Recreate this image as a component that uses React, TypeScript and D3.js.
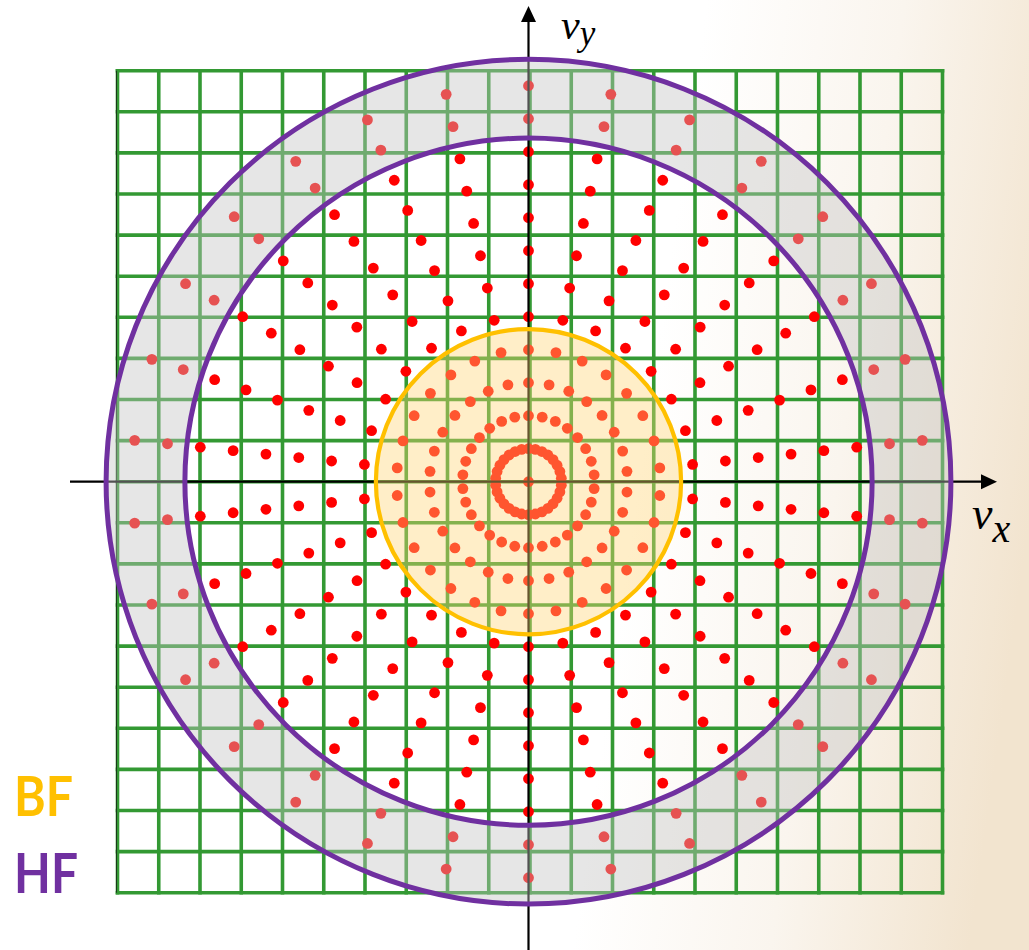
import React from "react";
import * as d3 from "d3";

// ---- data (grid units: one grid cell = 1) ----
const gridTicks = [-10, -9, -8, -7, -6, -5, -4, -3, -2, -1, 0, 1, 2, 3, 4, 5, 6, 7, 8, 9, 10];
const ringRadii = [0.8, 1.6, 2.4, 3.2, 4.0, 4.8, 5.6, 6.4, 7.2, 8.0, 8.8, 9.6];
const spokeAngles = [6, 18, 30, 42, 54, 66, 78, 90, 102, 114, 126, 138, 150, 162, 174, 186, 198, 210, 222, 234, 246, 258, 270, 282, 294, 306, 318, 330, 342, 354];
const bfRadius = 3.7;
const hfInner = 8.33;
const hfOuter = 10.24;
const legendLabels = ["BF", "HF"];

const W = 1029;
const H = 950;

export default function App() {
  const x = d3.scaleLinear().domain([-10, 10]).range([117.5, 942.5]);
  const y = d3.scaleLinear().domain([-10, 10]).range([892.7, 70.7]);
  const cx = x(0) - 1.5;
  const cy = y(0);
  const rs = (v: number) => (x(v) - x(0));

  const dots: { px: number; py: number }[] = [{ px: cx, py: cy }];
  ringRadii.forEach((r) => {
    spokeAngles.forEach((a) => {
      const t = (a * Math.PI) / 180;
      dots.push({ px: cx + rs(r) * Math.cos(t), py: cy - rs(r) * Math.sin(t) });
    });
  });

  const annulus = d3.arc()({
    innerRadius: rs(hfInner),
    outerRadius: rs(hfOuter),
    startAngle: 0,
    endAngle: 2 * Math.PI,
  } as any) as string;

  const green = "#339933";
  const purple = "#7030a0";
  const gold = "#ffc000";

  return (
    <svg width={W} height={H} style={{ position: "absolute", left: 0, top: 0 }}>
      <defs>
        <linearGradient id="bg" x1="640" y1="470" x2={W} y2={525} gradientUnits="userSpaceOnUse">
          <stop offset="0" stopColor="#ffffff" />
          <stop offset="0.5" stopColor="#faf5ee" />
          <stop offset="1" stopColor="#f2e4cf" />
        </linearGradient>
      </defs>
      <rect x={0} y={0} width={W} height={H} fill="url(#bg)" />

      {/* grid */}
      <g stroke={green} strokeWidth={3.6}>
        {gridTicks.map((t) => (
          <line key={"v" + t} x1={x(t)} x2={x(t)} y1={y(-10) + 1.8} y2={y(10) - 1.8} />
        ))}
        {gridTicks.map((t) => (
          <line key={"h" + t} x1={x(-10) - 1.8} x2={x(10) + 1.8} y1={y(t)} y2={y(t)} />
        ))}
      </g>
      <line x1={x(-10) - 1} x2={x(-10) - 1} y1={y(10)} y2={y(-10)} stroke="#1a3a1a" strokeWidth={1} />

      {/* dots */}
      <g fill="#ff0000">
        {dots.map((d, i) => (
          <circle key={i} cx={d.px} cy={d.py} r={5.4} />
        ))}
      </g>

      {/* axes */}
      <g stroke="#000" strokeWidth={2.2}>
        <line x1={70} x2={990} y1={cy} y2={cy} />
        <line x1={cx} x2={cx} y1={H} y2={14} />
      </g>
      <path d={`M997,${cy} L981,${cy - 7.5} L981,${cy + 7.5} Z`} fill="#000" />
      <path d={`M${cx},6 L${cx - 7.5},22 L${cx + 7.5},22 Z`} fill="#000" />

      {/* translucent regions */}
      <path d={annulus} transform={`translate(${cx},${cy})`} fill="#c4c4c4" fillOpacity={0.42} />
      <circle cx={cx} cy={cy} r={rs(bfRadius)} fill="#ffd476" fillOpacity={0.4} />

      {/* outlines */}
      <circle cx={cx} cy={cy} r={rs(hfOuter)} fill="none" stroke={purple} strokeWidth={5} />
      <circle cx={cx} cy={cy} r={rs(hfInner)} fill="none" stroke={purple} strokeWidth={5} />
      <circle cx={cx} cy={cy} r={rs(bfRadius)} fill="none" stroke={gold} strokeWidth={4.2} />

      {/* axis labels */}
      <text x={561} y={39} fontFamily="'Liberation Serif', serif" fontStyle="italic" fontSize={42} fill="#000">
        ν
        <tspan fontSize={35} dy={6}>y</tspan>
      </text>
      <text x={972} y={529} fontFamily="'Liberation Serif', serif" fontStyle="italic" fontSize={46} fill="#000">
        ν
        <tspan fontSize={40} dy={13}>x</tspan>
      </text>

      {/* legend labels */}
      <text x={14} y={816} fontFamily="Lato, 'Open Sans', sans-serif" fontWeight={700} fontSize={55} fill={gold}
        textLength={59} lengthAdjust="spacingAndGlyphs">
        {legendLabels[0]}
      </text>
      <text x={14} y={893} fontFamily="Lato, 'Open Sans', sans-serif" fontWeight={700} fontSize={55} fill={purple}
        textLength={64} lengthAdjust="spacingAndGlyphs">
        {legendLabels[1]}
      </text>
    </svg>
  );
}
